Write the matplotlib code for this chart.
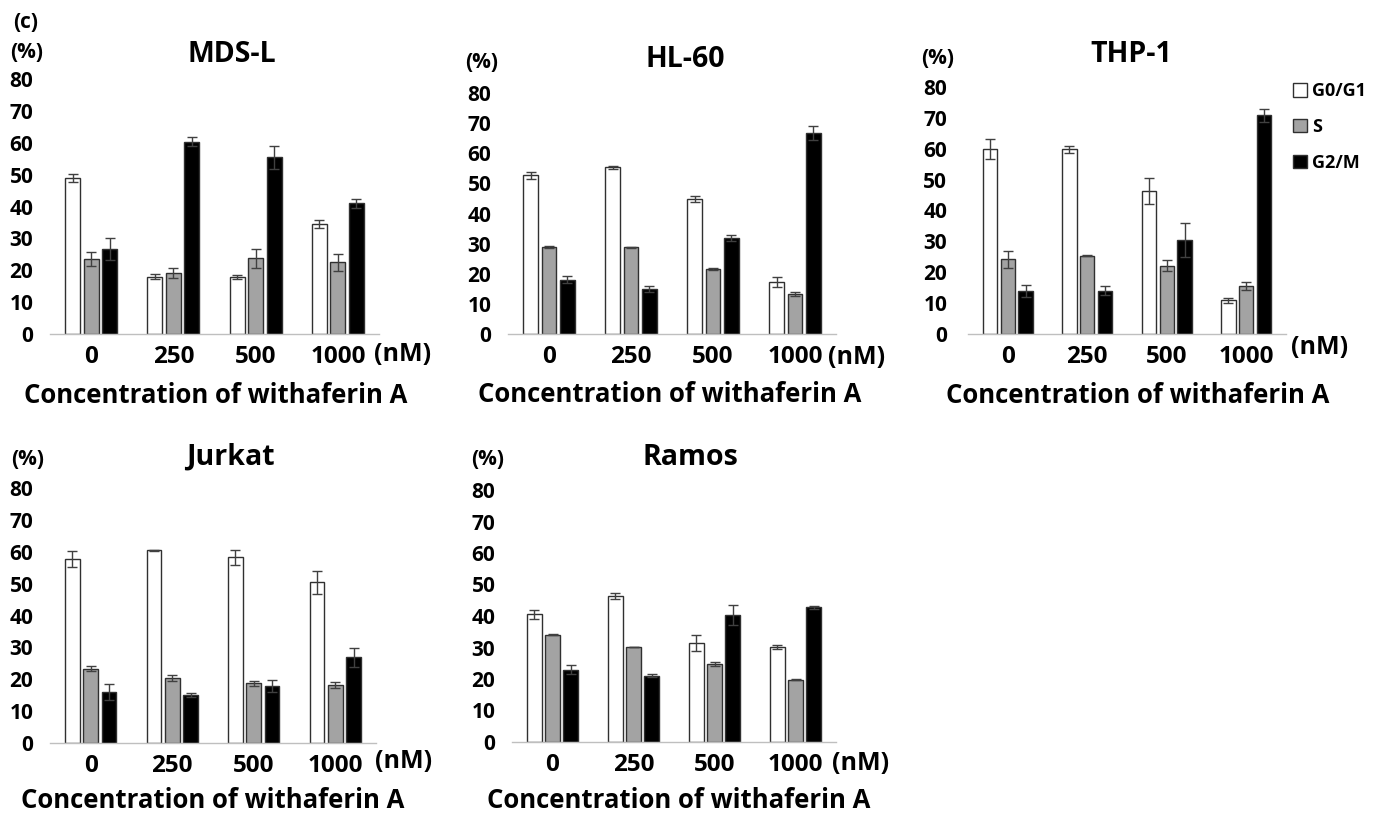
import numpy as np
import matplotlib
matplotlib.use("Agg")
import matplotlib.pyplot as plt
import matplotlib.transforms as mtransforms
from matplotlib.patches import Patch

W, H = 1376, 815
plt.rcParams.update({
    "font.family": ["Open Sans", "DejaVu Sans"],
    "font.weight": "bold",
})

CONCS = ["0", "250", "500", "1000"]
PHASES = ["G0/G1", "S", "G2/M"]
PHASE_COLORS = ["white", "#a3a3a3", "black"]
YTICKS = [0, 10, 20, 30, 40, 50, 60, 70, 80]

# mean % of cells, rows: G0/G1, S, G2/M ; columns: 0, 250, 500, 1000 nM
MDSL_MEAN = [[49.0, 17.9, 17.9, 34.6], [23.5, 19.2, 23.7, 22.5], [26.7, 60.3, 55.4, 41.0]]
MDSL_ERR = [[1.2, 0.8, 0.7, 1.2], [2.1, 1.6, 3.1, 2.7], [3.4, 1.4, 3.7, 1.4]]

HL60_MEAN = [[52.7, 55.3, 44.7, 17.3], [28.8, 28.8, 21.6, 13.4], [18.0, 15.0, 32.0, 66.8]]
HL60_ERR = [[1.1, 0.6, 1.0, 1.7], [0.3, 0.2, 0.3, 0.7], [1.1, 1.0, 1.0, 2.3]]

THP1_MEAN = [[59.8, 59.8, 46.3, 10.9], [24.2, 25.4, 22.1, 15.6], [14.0, 14.0, 30.5, 70.8]]
THP1_ERR = [[3.2, 1.1, 4.1, 0.9], [2.8, 0.2, 1.8, 1.2], [1.9, 1.4, 5.4, 2.2]]

JURKAT_MEAN = [[57.7, 60.4, 58.3, 50.4], [23.3, 20.4, 18.7, 18.3], [15.9, 15.1, 17.8, 26.9]]
JURKAT_ERR = [[2.5, 0.1, 2.3, 3.7], [0.8, 0.8, 0.9, 0.9], [2.5, 0.7, 1.9, 3.0]]

RAMOS_MEAN = [[40.5, 46.3, 31.5, 30.2], [34.1, 30.2, 24.7, 19.8], [23.0, 21.0, 40.3, 42.7]]
RAMOS_ERR = [[1.4, 1.0, 2.6, 0.7], [0.2, 0.1, 0.6, 0.1], [1.4, 0.5, 3.1, 0.5]]


def fx(x):
    return x / W


def fy(y):
    return 1 - y / H


# name, means, errs, axes box px (x0, x1, y_zero, y_80), title baseline, (%) centre,
# (nM) centre, xlabel baseline, ytick pad
PANELS = [
    ("MDS-L", MDSL_MEAN, MDSL_ERR, (50, 379, 334, 79), (232, 62), (27, 53), (403, 355), (216, 403), 12),
    ("HL-60", HL60_MEAN, HL60_ERR, (508, 836, 334, 93), (685, 67), (482, 62), (857, 357), (670, 402), 12),
    ("THP-1", THP1_MEAN, THP1_ERR, (968, 1286, 334, 87), (1131, 62), (938, 58), (1320, 347), (1138, 403), 15),
    ("Jurkat", JURKAT_MEAN, JURKAT_ERR, (50, 376, 743, 488), (230, 465), (28, 460), (404, 762), (213, 808), 12),
    ("Ramos", RAMOS_MEAN, RAMOS_ERR, (512, 836, 742, 490), (690, 465), (488, 460), (861, 763), (679, 808), 12),
]

fig = plt.figure(figsize=(W / 100, H / 100), dpi=100)
fig.text(fx(26), fy(22), "(c)", fontsize=15, fontweight="bold", ha="center", va="center")

x = np.arange(len(CONCS))
width = 0.18
step = 0.225
shift = mtransforms.ScaledTranslation(-4 / 100, 0, fig.dpi_scale_trans)

for name, means, errs, box, tpos, ppos, npos, lpos, ypad in PANELS:
    x0, x1, yz, y80 = box
    ax = fig.add_axes([fx(x0), fy(yz), (x1 - x0) / W, (yz - y80) / H])
    for i in range(3):
        ax.bar(x + (i - 1) * step, means[i], width, yerr=errs[i],
               color=PHASE_COLORS[i], edgecolor="#303030", linewidth=1.0,
               error_kw=dict(ecolor="#404040", elinewidth=1.0, capsize=3.5, capthick=1.0),
               zorder=2)
    ax.set_xlim(-0.5, 3.5)
    ax.set_ylim(0, 80)
    ax.set_yticks(YTICKS)
    ax.set_yticklabels([str(v) for v in YTICKS], fontsize=15, fontweight="bold")
    ax.set_xticks(x)
    ax.set_xticklabels(CONCS, fontsize=17.5, fontweight="bold")
    for lab in ax.get_xticklabels():
        lab.set_transform(lab.get_transform() + shift)
    ax.tick_params(axis="both", length=0)
    ax.tick_params(axis="y", pad=ypad)
    ax.tick_params(axis="x", pad=8)
    for s in ["top", "right", "left"]:
        ax.spines[s].set_visible(False)
    ax.spines["bottom"].set_color("#bfbfbf")
    ax.spines["bottom"].set_linewidth(1.0)
    ax.patch.set_alpha(0)

    fig.text(fx(tpos[0]), fy(tpos[1]), name, fontsize=20.5, fontweight="bold", ha="center", va="baseline")
    fig.text(fx(ppos[0]), fy(ppos[1]), "(%)", fontsize=15, fontweight="bold", ha="center", va="center")
    fig.text(fx(npos[0]), fy(npos[1]), "(nM)", fontsize=18, fontweight="bold", ha="center", va="center")
    fig.text(fx(lpos[0]), fy(lpos[1]), "Concentration of withaferin A", fontsize=18.5,
             fontweight="bold", ha="center", va="baseline")

handles = [Patch(facecolor=c, edgecolor="#303030", linewidth=1.0) for c in PHASE_COLORS]
fig.legend(handles, PHASES, loc="upper left", bbox_to_anchor=(fx(1286), fy(75)),
           frameon=False, fontsize=13, handlelength=0.75, handleheight=0.75,
           handletextpad=0.3, labelspacing=0.98, borderaxespad=0)

fig.savefig("out.png", dpi=100)
